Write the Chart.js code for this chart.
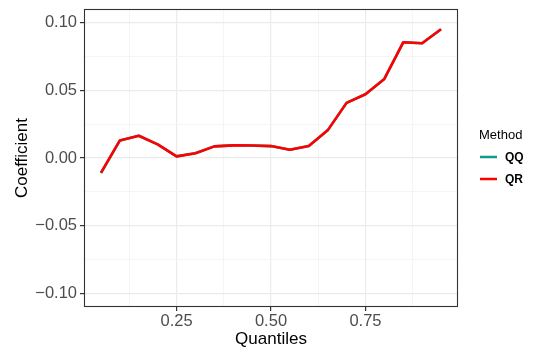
<!DOCTYPE html>
<html>
<head>
<meta charset="utf-8">
<script src="https://cdn.jsdelivr.net/npm/chart.js@4.4.1/dist/chart.umd.min.js"></script>
<style>
  html, body { margin: 0; padding: 0; background: #ffffff; }
  #wrap { width: 533px; height: 352px; }
</style>
</head>
<body>
<div id="wrap"><canvas id="c" width="533" height="352"></canvas></div>
<script>
// Quantile levels and estimated coefficients for each method
const quantiles = [0.05, 0.10, 0.15, 0.20, 0.25, 0.30, 0.35, 0.40, 0.45, 0.50,
                   0.55, 0.60, 0.65, 0.70, 0.75, 0.80, 0.85, 0.90, 0.95];
const coefQQ = [-0.0112, 0.0130, 0.0164, 0.0101, 0.0012, 0.0035, 0.0086, 0.0093, 0.0092, 0.0088,
                0.0061, 0.0088, 0.0204, 0.0407, 0.0471, 0.0584, 0.0854, 0.0847, 0.0950];
const coefQR = [-0.0108, 0.0130, 0.0164, 0.0101, 0.0012, 0.0035, 0.0086, 0.0093, 0.0092, 0.0088,
                0.0061, 0.0088, 0.0204, 0.0407, 0.0471, 0.0584, 0.0854, 0.0847, 0.0950];
const methodNames = ['QQ', 'QR'];
const methodColors = ['#13998F', '#FF0000'];

// Axis breaks: major ones are labelled, minor ones only carry a light grid line
const xMajorTicks = [0.25, 0.50, 0.75];
const xMinorTicks = [0.125, 0.375, 0.625, 0.875];
const yMajorTicks = [-0.10, -0.05, 0.00, 0.05, 0.10];
const yMinorTicks = [-0.075, -0.025, 0.025, 0.075];

const isMajor = (list, v) => list.some(t => Math.abs(t - v) < 1e-9);
const fmt = v => {
  const s = Math.abs(v).toFixed(2);
  return v < -1e-9 ? '\u2212' + s : s;
};

const AREA = { left: 84, right: 458, top: 9, bottom: 307 };
const FONT = '"Liberation Sans", Arial, sans-serif';

// Full panel border drawn around the plotting area
const panelBorder = {
  id: 'panelBorder',
  afterDatasetsDraw(chart) {
    const { ctx, chartArea: a } = chart;
    ctx.save();
    ctx.strokeStyle = '#333333';
    ctx.lineWidth = 1.1;
    ctx.strokeRect(a.left + 0.5, a.top + 0.5, a.right - a.left - 1, a.bottom - a.top - 1);
    ctx.restore();
  }
};

// Legend placed on the right of the panel, ggplot style
const sideLegend = {
  id: 'sideLegend',
  afterDraw(chart) {
    const { ctx } = chart;
    ctx.save();
    ctx.textBaseline = 'middle';
    ctx.textAlign = 'left';
    ctx.fillStyle = '#000000';
    ctx.font = '13px ' + FONT;
    ctx.fillText('Method', 479, 135);
    chart.data.datasets.forEach((ds, i) => {
      const y = 157 + i * 22;
      ctx.strokeStyle = ds.borderColor;
      ctx.lineWidth = 2.5;
      ctx.beginPath();
      ctx.moveTo(480, y);
      ctx.lineTo(497, y);
      ctx.stroke();
      ctx.fillStyle = '#000000';
      ctx.font = 'bold 12px ' + FONT;
      ctx.fillText(ds.label, 505, y + 0.5);
    });
    ctx.restore();
  }
};

// QR is drawn over QQ (lower order = on top)
const datasets = [coefQQ, coefQR].map((vals, i) => ({
  label: methodNames[i],
  data: quantiles.map((q, j) => ({ x: q, y: vals[j] })),
  borderColor: methodColors[i],
  backgroundColor: methodColors[i],
  borderWidth: 2.6,
  borderJoinStyle: 'round',
  pointRadius: 0,
  tension: 0,
  fill: false,
  order: methodNames.length - i
}));

const gridOpts = (major) => ({
  color: ctx => (ctx.tick && isMajor(major, ctx.tick.value)) ? '#EBEBEB' : '#F3F3F3',
  lineWidth: ctx => (ctx.tick && isMajor(major, ctx.tick.value)) ? 1.2 : 0.8,
  tickColor: ctx => (ctx.tick && isMajor(major, ctx.tick.value)) ? '#333333' : 'rgba(0,0,0,0)',
  tickLength: 4,
  drawTicks: true
});

new Chart(document.getElementById('c'), {
  type: 'line',
  data: { datasets },
  plugins: [panelBorder, sideLegend],
  options: {
    responsive: false,
    animation: false,
    events: [],
    layout: { padding: { left: 0, right: 533 - AREA.right, top: AREA.top, bottom: 0 } },
    plugins: { legend: { display: false }, tooltip: { enabled: false } },
    scales: {
      x: {
        type: 'linear',
        min: 0.005,
        max: 0.995,
        border: { display: false },
        grid: gridOpts(xMajorTicks),
        afterBuildTicks: s => { s.ticks = xMajorTicks.concat(xMinorTicks).sort((a, b) => a - b).map(v => ({ value: v })); },
        afterFit: s => { s.height = 352 - AREA.bottom; s.paddingLeft = 0; s.paddingRight = 0; },
        ticks: {
          autoSkip: false,
          maxRotation: 0,
          padding: 1,
          color: '#4D4D4D',
          font: { family: FONT, size: 16.5 },
          callback: v => isMajor(xMajorTicks, v) ? fmt(v) : ''
        },
        title: {
          display: true,
          text: 'Quantiles',
          color: '#000000',
          font: { family: FONT, size: 17 },
          padding: { top: 0, bottom: 2 }
        }
      },
      y: {
        type: 'linear',
        min: -0.11,
        max: 0.11,
        border: { display: false },
        grid: gridOpts(yMajorTicks),
        afterBuildTicks: s => { s.ticks = yMajorTicks.concat(yMinorTicks).sort((a, b) => a - b).map(v => ({ value: v })); },
        afterFit: s => { s.width = AREA.left; s.paddingTop = 0; s.paddingBottom = 0; },
        ticks: {
          autoSkip: false,
          padding: 3,
          color: '#4D4D4D',
          font: { family: FONT, size: 16.5 },
          callback: v => isMajor(yMajorTicks, v) ? fmt(v) : ''
        },
        title: {
          display: true,
          text: 'Coefficient',
          color: '#000000',
          font: { family: FONT, size: 17 },
          padding: { top: 12, bottom: 0 }
        }
      }
    }
  }
});
</script>
</body>
</html>
